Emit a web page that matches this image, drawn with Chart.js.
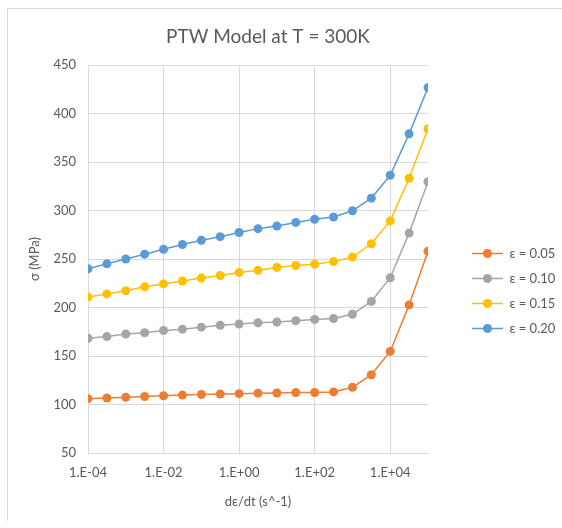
<!DOCTYPE html>
<html lang="en">
<head>
  <meta charset="UTF-8">
  <title>PTW Model at T = 300K</title>
  <script type="text/javascript" src="https://cdn.jsdelivr.net/npm/chart.js@4.4.1/dist/chart.umd.min.js"></script>
  <style>
    body { margin: 0; background: #fff; }
    #wrap { position: relative; width: 562px; height: 528px; }
    #frame { position: absolute; left: 7px; top: 8px; right: 0; bottom: 7px;
             border-left: 1px solid #d9d9d9; border-top: 1px solid #d9d9d9; pointer-events: none; }
  </style>
</head>
<body>
  <div id="wrap">
    <canvas id="chart" width="562" height="528"></canvas>
    <div id="frame"></div>
  </div>

  <script type="text/javascript">
    // strain rate (1/s), half-decade steps
    var rates = [1e-4, 3.162e-4, 1e-3, 3.162e-3, 1e-2, 3.162e-2, 0.1, 0.3162, 1, 3.162,
                 10, 31.62, 100, 316.2, 1e3, 3162, 1e4, 31620, 1e5]

    var eps005 = [106, 106.7, 107.5, 108.3, 109, 109.7, 110.3, 110.7, 111.2, 111.7,
                  111.8, 112.3, 112.4, 113, 117.7, 130.7, 154.7, 202.7, 258]
    var eps010 = [168.3, 170, 172.7, 174, 176.3, 177.7, 179.7, 181.7, 183, 184.3,
                  185, 186.3, 187.7, 188.7, 193, 206.3, 230.7, 276.7, 329.7]
    var eps015 = [210.7, 214, 217.3, 221.3, 224.3, 227.3, 230.3, 233, 236, 238.3,
                  241.3, 243.3, 244.7, 247.3, 252, 265.7, 289.3, 333.3, 384.3]
    var eps020 = [240, 245, 250, 255, 260, 265, 269.3, 273, 277.3, 281.3,
                  284, 287.7, 291, 293.3, 299.7, 312.7, 336.3, 379, 426.7]

    var seriesNames = ['\u03b5 = 0.05', '\u03b5 = 0.10', '\u03b5 = 0.15', '\u03b5 = 0.20']
    var seriesColors = ['#ED7D31', '#A5A5A5', '#FFC000', '#5B9BD5']
    var xTicks = [1e-4, 1e-2, 1, 1e2, 1e4]
    var yMin = 50, yMax = 450, yStep = 50

    var textColor = '#595959'
    var gridColor = '#d9d9d9'
    var fontName = 'Lato, "Open Sans", sans-serif'

    function pts(vals) {
      return vals.map(function (v, i) { return { x: rates[i], y: v } })
    }

    // little line + marker icon for the legend
    function legendIcon(color) {
      var c = document.createElement('canvas')
      c.width = 63
      c.height = 11
      var g = c.getContext('2d')
      g.strokeStyle = color
      g.lineWidth = 1.5
      g.beginPath()
      g.moveTo(32, 5.5)
      g.lineTo(63, 5.5)
      g.stroke()
      g.fillStyle = color
      g.beginPath()
      g.arc(47.5, 5.5, 4.5, 0, Math.PI * 2)
      g.fill()
      return c
    }

    function expLabel(v) {
      var e = Math.round(Math.log10(v))
      return '1.E' + (e < 0 ? '-' : '+') + String(Math.abs(e)).padStart(2, '0')
    }

    var allSeries = [eps005, eps010, eps015, eps020]
    var datasets = allSeries.map(function (vals, i) {
      return {
        label: seriesNames[i],
        data: pts(vals),
        borderColor: seriesColors[i],
        backgroundColor: seriesColors[i],
        borderWidth: 1.5,
        pointRadius: 4.5,
        pointBorderWidth: 0,
        pointBackgroundColor: seriesColors[i],
        fill: false,
        tension: 0
      }
    })

    var ctx = document.getElementById('chart').getContext('2d')
    var chart = new Chart(ctx, {
      type: 'line',
      data: { datasets: datasets },
      options: {
        responsive: false,
        animation: false,
        // negative left padding only so the title centres where Excel put it
        layout: { padding: { left: -26, right: 0, top: 10, bottom: 18 } },
        plugins: {
          tooltip: { enabled: false },
          title: {
            display: true,
            text: 'PTW Model at T = 300K',
            color: textColor,
            font: { family: fontName, size: 19, weight: 'normal' },
            padding: { top: 15.6, bottom: 16.6 }
          },
          legend: {
            position: 'right',
            fullSize: false,
            maxWidth: 134,
            title: { display: true, text: '', padding: { top: 48.4, bottom: 0 }, font: { size: 13 } },
            labels: {
              color: textColor,
              font: { family: fontName, size: 13 },
              usePointStyle: true,
              pointStyleWidth: 63,
              padding: 12,
              generateLabels: function (chart) {
                var items = Chart.defaults.plugins.legend.labels.generateLabels(chart)
                items.forEach(function (it, i) { it.pointStyle = legendIcon(seriesColors[i]) })
                return items
              }
            }
          }
        },
        scales: {
          x: {
            type: 'logarithmic',
            min: 1e-4,
            max: 1e5,
            afterBuildTicks: function (scale) {
              scale.ticks = xTicks.map(function (v) { return { value: v } })
            },
            grid: { color: gridColor, drawTicks: false },
            border: { color: gridColor },
            ticks: {
              color: textColor,
              font: { family: fontName, size: 13 },
              padding: 12,
              maxRotation: 0,
              callback: function (v) { return expLabel(v) }
            },
            title: {
              display: true,
              text: 'd\u03b5/dt (s^-1)',
              color: textColor,
              font: { family: fontName, size: 13 },
              padding: { top: 1.8, bottom: 0 }
            }
          },
          y: {
            min: yMin,
            max: yMax,
            afterFit: function (scale) { scale.width = 114 },
            grid: { color: gridColor, drawTicks: false },
            border: { color: gridColor },
            ticks: {
              stepSize: yStep,
              color: textColor,
              font: { family: fontName, size: 13 },
              padding: 12
            },
            title: {
              display: true,
              text: '\u03c3 (MPa)',
              color: textColor,
              font: { family: fontName, size: 13 },
              padding: { top: 53, bottom: 0 }
            }
          }
        }
      }
    })
  </script>
</body>
</html>
